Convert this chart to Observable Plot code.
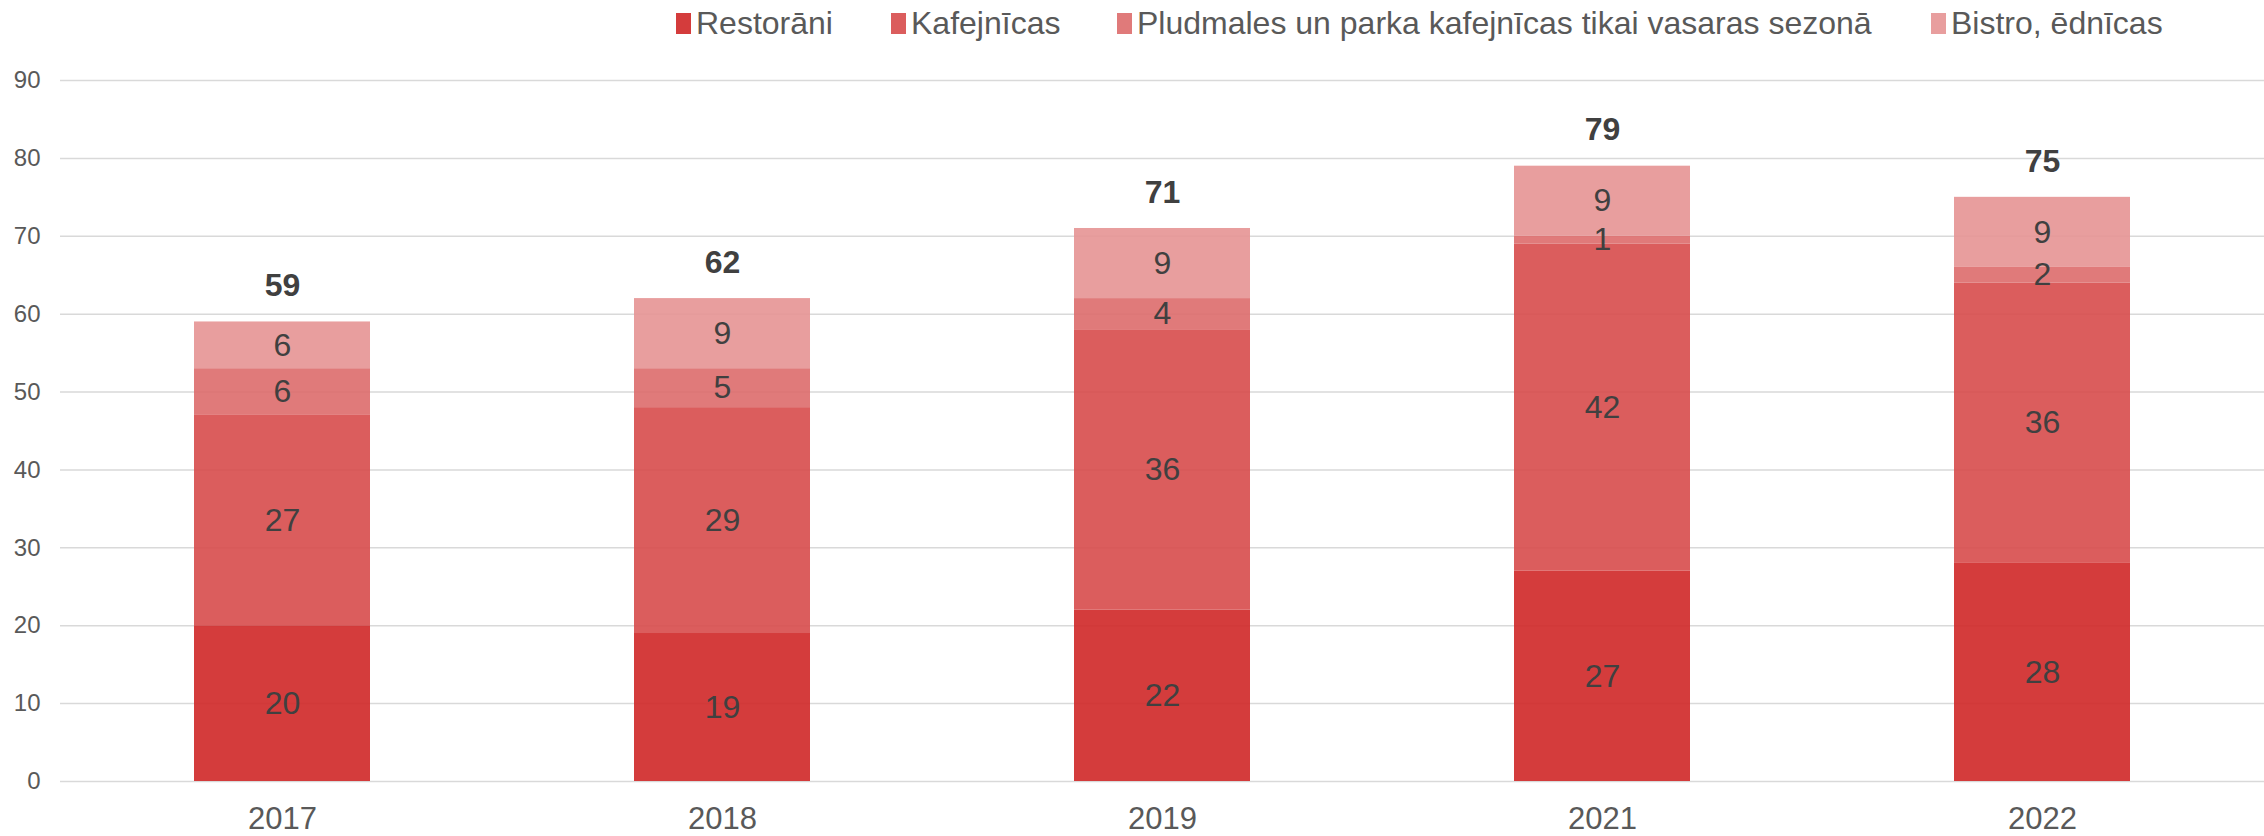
<!DOCTYPE html>
<html>
<head>
<meta charset="utf-8">
<script src="https://cdn.jsdelivr.net/npm/d3@7"></script>
<script src="https://cdn.jsdelivr.net/npm/@observablehq/plot@0.6"></script>
<style>
  html, body { margin: 0; padding: 0; background: #fff; }
  body { width: 2264px; height: 836px; overflow: hidden; font-family: "Liberation Sans", Arial, sans-serif; }
  #legend { height: 46px; position: relative; }
  .item { position: absolute; top: 0; height: 46px; display: flex; align-items: center; font-size: 32px; color: #595959; white-space: nowrap; }
  .sw { width: 15px; height: 21px; margin-right: 5px; display: inline-block; }
  svg { display: block; }
</style>
</head>
<body>
<div id="legend"></div>
<div id="chart"></div>
<script>
const years = ["2017", "2018", "2019", "2021", "2022"];
const seriesNames = ["Restorāni", "Kafejnīcas", "Pludmales un parka kafejnīcas tikai vasaras sezonā", "Bistro, ēdnīcas"];
const restorani = [20, 19, 22, 27, 28];
const kafejnicas = [27, 29, 36, 42, 36];
const pludmales = [6, 5, 4, 1, 2];
const bistro = [6, 9, 9, 9, 9];
const totals = [59, 62, 71, 79, 75];
const yTicks = [0, 10, 20, 30, 40, 50, 60, 70, 80, 90];
const colors = ["#cf2727", "#d74b4b", "#dd6c6c", "#e59393"];

const seriesValues = [restorani, kafejnicas, pludmales, bistro];
const data = [];
seriesNames.forEach((s, i) => years.forEach((y, j) => data.push({year: y, series: s, value: seriesValues[i][j]})));
const totalData = years.map((y, j) => ({year: y, total: totals[j]}));

// legend
const legendX = [676, 891, 1117, 1931];
const legend = document.getElementById("legend");
seriesNames.forEach((s, i) => {
  const d = document.createElement("div");
  d.className = "item";
  d.style.left = legendX[i] + "px";
  d.innerHTML = `<span class="sw" style="background:${colors[i]};opacity:0.9"></span><span>${s}</span>`;
  legend.appendChild(d);
});

const chart = Plot.plot({
  width: 2264,
  height: 790,
  marginLeft: 60,
  marginRight: 0,
  marginTop: 34,
  marginBottom: 55,
  style: {fontFamily: "'Liberation Sans', Arial, sans-serif", background: "#fff"},
  x: {domain: years, paddingInner: 0.6, paddingOuter: 0.3, label: null},
  y: {domain: [0, 90], label: null},
  color: {domain: seriesNames, range: colors},
  marks: [
    Plot.ruleY(yTicks, {stroke: "#d9d9d9", strokeWidth: 1.5}),
    Plot.axisY({ticks: yTicks, tickSize: 0, tickPadding: 20, fontSize: 24, fill: "#595959", label: null}),
    Plot.axisX({tickSize: 0, tickPadding: 25, fontSize: 31, fill: "#595959", label: null}),
    Plot.barY(data, {x: "year", y: "value", fill: "series", fillOpacity: 0.9, order: seriesNames}),
    Plot.text(data, Plot.stackY({x: "year", y: "value", z: "series", order: seriesNames, text: "value", fontSize: 32, fill: "#404040"})),
    Plot.text(totalData, {x: "year", y: "total", text: "total", dy: -36, fontSize: 32, fontWeight: "bold", fill: "#404040"})
  ]
});
document.getElementById("chart").appendChild(chart);
</script>
</body>
</html>
